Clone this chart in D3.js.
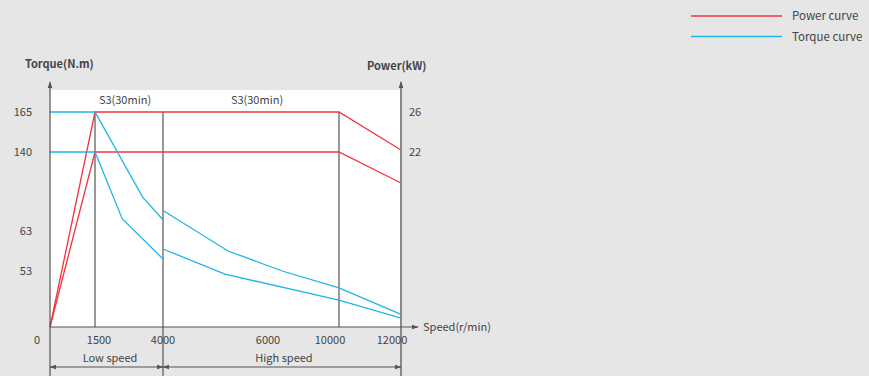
<!DOCTYPE html>
<html>
<head>
<meta charset="utf-8">
<script src="https://cdn.jsdelivr.net/npm/d3@7"></script>
<style>
  body { margin: 0; background: #e6e6e6; }
  svg text { font-family: "Noto Sans CJK SC", "Noto Sans", sans-serif; fill: #444; }
</style>
</head>
<body>
<svg id="chart" width="869" height="376"></svg>
<script>
// Speed breakpoints (r/min) used by the (non-uniform) speed axis
const speedTicks = [0, 1500, 4000, 6000, 10000, 12000];
const torqueTicks = [0, 53, 63, 140, 165];
const powerTicks = [0, 22, 26];

// Power curves [speed, kW]
const powerUpper = [[0, 0], [1500, 26], [10000, 26], [12000, 22.2]];
const powerLower = [[0, 0], [1500, 22], [10000, 22], [12000, 18.1]];

// Torque curves [speed, N.m], low speed and high speed windings
const torqueUpperLow = [[0, 165], [1500, 165], [3250, 96], [4000, 74]];
const torqueUpperHigh = [[4000, 83], [5240, 58], [6800, 53], [10000, 37], [12000, 12]];
const torqueLowerLow = [[0, 140], [1500, 140], [2500, 75], [4000, 56]];
const torqueLowerHigh = [[4000, 58.5], [5180, 50], [10000, 25.5], [12000, 8.5]];

const zoneLabels = ["S3(30min)", "S3(30min)"];

const red = "#f2333d", blue = "#1fb5ea", dark = "#555";

const svg = d3.select("#chart");

// piecewise scales, the picture is not drawn to a linear scale
const x = d3.scaleLinear().domain(speedTicks).range([50, 95, 163, 268, 339, 401]);
const yT = d3.scaleLinear().domain(torqueTicks).range([327, 271, 231, 152, 112]);
const yP = d3.scaleLinear().domain(powerTicks).range([327, 152, 112]);

// white plot area
svg.append("rect")
    .attr("x", x(0)).attr("y", 90)
    .attr("width", x(12000) - x(0)).attr("height", yT(0) - 90)
    .attr("fill", "#fff");

const defs = svg.append("defs");
defs.append("marker").attr("id", "arr").attr("viewBox", "0 0 10 10")
    .attr("refX", 9).attr("refY", 5).attr("markerWidth", 7).attr("markerHeight", 7)
    .attr("markerUnits", "userSpaceOnUse")
    .attr("orient", "auto-start-reverse")
    .append("path").attr("d", "M0,1.5 L10,5 L0,8.5 Z").attr("fill", dark);

// vertical separators
svg.append("line").attr("x1", x(1500)).attr("x2", x(1500))
    .attr("y1", yT(165)).attr("y2", yT(0))
    .attr("stroke", "#999").attr("stroke-width", 2);
svg.append("line").attr("x1", x(4000)).attr("x2", x(4000))
    .attr("y1", yT(165)).attr("y2", 376)
    .attr("stroke", dark).attr("stroke-width", 1.2);
svg.append("line").attr("x1", x(10000)).attr("x2", x(10000))
    .attr("y1", yT(165)).attr("y2", yT(0))
    .attr("stroke", dark).attr("stroke-width", 1.2);

// curves
const line = (ys) => d3.line().x((d) => x(d[0])).y((d) => ys(d[1]));
[powerUpper, powerLower].forEach((d) => {
    svg.append("path").attr("d", line(yP)(d))
        .attr("fill", "none").attr("stroke", red).attr("stroke-width", 1.3);
});
[torqueUpperLow, torqueUpperHigh, torqueLowerLow, torqueLowerHigh].forEach((d) => {
    svg.append("path").attr("d", line(yT)(d))
        .attr("fill", "none").attr("stroke", blue).attr("stroke-width", 1.3);
});

// axes lines
svg.append("line").attr("x1", x(0)).attr("x2", x(0)).attr("y1", 376).attr("y2", 82)
    .attr("stroke", dark).attr("stroke-width", 1.2).attr("marker-end", "url(#arr)");
svg.append("line").attr("x1", x(12000)).attr("x2", x(12000)).attr("y1", 376).attr("y2", 82)
    .attr("stroke", "#888").attr("stroke-width", 2).attr("marker-end", "url(#arr)");
svg.append("line").attr("x1", x(0)).attr("x2", 418).attr("y1", yT(0)).attr("y2", yT(0))
    .attr("stroke", dark).attr("stroke-width", 1.2).attr("marker-end", "url(#arr)");

// tick labels
svg.append("g").selectAll("text").data(torqueTicks.filter((d) => d > 0)).join("text")
    .attr("x", 32).attr("y", (d) => yT(d) + 4)
    .attr("text-anchor", "end").attr("font-size", 11).text((d) => d);
svg.append("g").selectAll("text").data(powerTicks.filter((d) => d > 0)).join("text")
    .attr("x", 409).attr("y", (d) => yP(d) + 4)
    .attr("font-size", 11).text((d) => d);
// labels in the picture sit a little off their lines
const labelShift = { 1500: 4, 4000: 0, 6000: 0, 10000: -9, 12000: -9 };
svg.append("g").selectAll("text").data(speedTicks.filter((d) => d > 0)).join("text")
    .attr("x", (d) => x(d) + labelShift[d]).attr("y", 344)
    .attr("text-anchor", "middle").attr("font-size", 11).text((d) => d);
svg.append("text").attr("x", 37).attr("y", 344).attr("text-anchor", "middle")
    .attr("font-size", 11).text("0");

// axis titles
svg.append("text").attr("x", 25).attr("y", 68).attr("font-size", 11)
    .attr("font-weight", "bold").text("Torque(N.m)");
svg.append("text").attr("x", 367).attr("y", 70).attr("font-size", 11)
    .attr("font-weight", "bold").text("Power(kW)");
svg.append("text").attr("x", 423).attr("y", 331).attr("font-size", 11).text("Speed(r/min)");

// S3 labels
svg.append("text").attr("x", (x(1500) + x(4000)) / 2 - 4).attr("y", 104)
    .attr("text-anchor", "middle").attr("font-size", 11).text(zoneLabels[0]);
svg.append("text").attr("x", 257).attr("y", 104)
    .attr("text-anchor", "middle").attr("font-size", 11).text(zoneLabels[1]);

// speed ranges
svg.append("line").attr("x1", x(0)).attr("x2", x(4000)).attr("y1", 367).attr("y2", 367)
    .attr("stroke", dark).attr("marker-start", "url(#arr)").attr("marker-end", "url(#arr)");
svg.append("line").attr("x1", x(4000)).attr("x2", x(12000)).attr("y1", 367).attr("y2", 367)
    .attr("stroke", dark).attr("marker-start", "url(#arr)").attr("marker-end", "url(#arr)");
svg.append("text").attr("x", 110).attr("y", 362).attr("text-anchor", "middle")
    .attr("font-size", 11).text("Low speed");
svg.append("text").attr("x", 284).attr("y", 362).attr("text-anchor", "middle")
    .attr("font-size", 11).text("High speed");

// legend
const legend = [["Power curve", red], ["Torque curve", blue]];
legend.forEach((l, i) => {
    svg.append("line").attr("x1", 691).attr("x2", 782)
        .attr("y1", 16 + i * 20.5).attr("y2", 16 + i * 20.5)
        .attr("stroke", l[1]).attr("stroke-width", 1.3);
    svg.append("text").attr("x", 792).attr("y", 20 + i * 20.5)
        .attr("font-size", 11.5).text(l[0]);
});
</script>
</body>
</html>
